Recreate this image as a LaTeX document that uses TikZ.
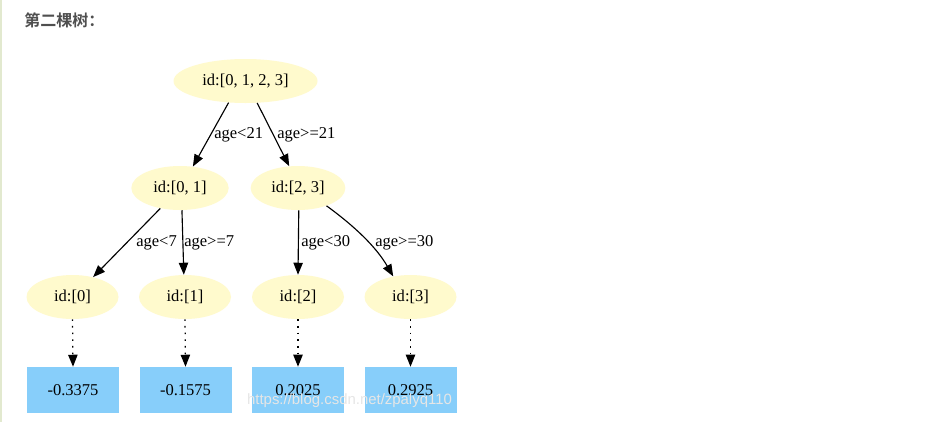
\documentclass[tikz,border=0pt]{standalone}
\usepackage{fontspec}
\setmainfont{Liberation Serif}
\newfontfamily\cjkbold[BoldFont={Noto Sans CJK SC Bold}]{Noto Sans CJK SC}
\newfontfamily\wmfont{Liberation Sans}
\usetikzlibrary{shapes.geometric,arrows.meta}
\definecolor{nodeyellow}{HTML}{FFFACD}
\definecolor{leafblue}{HTML}{87CEFA}
\definecolor{titlegray}{HTML}{4F4F4F}
\definecolor{borderline}{HTML}{E2E9CF}
\definecolor{wmgray}{HTML}{E6E6E6}
\tikzset{
  treenode/.style={ellipse, fill=nodeyellow, draw=none, inner sep=0pt,
    minimum height=33pt, font=\fontsize{12.4}{14}\selectfont},
  leafbox/.style={rectangle, fill=leafblue, draw=none, inner sep=0pt,
    minimum width=69pt, minimum height=34.5pt, font=\fontsize{12.4}{14}\selectfont},
  edgelabel/.style={inner sep=0pt, anchor=west, font=\fontsize{12.4}{14}\selectfont},
  conn/.style={line width=0.85pt, -{Triangle[length=9pt,width=7pt]}},
  dotconn/.style={line width=0.95pt, dash pattern=on 1.2pt off 3.8pt,
    -{Triangle[length=9pt,width=7pt]}},
}
\begin{document}
\begin{tikzpicture}[x=0.75pt,y=-0.75pt]
\useasboundingbox (0,0) rectangle (948,422);
\fill[white] (0,0) rectangle (948,422);
\draw[borderline, line width=1.1pt] (1,0) -- (1,422);

\node[anchor=west, inner sep=0pt, text=titlegray, font=\cjkbold\bfseries\fontsize{12}{14}\selectfont] (title) at (24,20) {第二棵树：};

\node[treenode, minimum width=108pt] (root) at (245.5,81) {id:[0, 1, 2, 3]};
\node[treenode, minimum width=73pt] (n01) at (180,188) {id:[0, 1]};
\node[treenode, minimum width=71pt] (n23) at (298,188) {id:[2, 3]};
\node[treenode, minimum width=69pt] (n0) at (72.5,297) {id:[0]};
\node[treenode, minimum width=69pt] (n1) at (185,297) {id:[1]};
\node[treenode, minimum width=69pt] (n2) at (298,297) {id:[2]};
\node[treenode, minimum width=69pt] (n3) at (410.5,297) {id:[3]};

\node[leafbox] (b0) at (73,390) {-0.3375};
\node[leafbox] (b1) at (185.5,390) {-0.1575};
\node[leafbox] (b2) at (298,390) {0.2025};
\node[leafbox] (b3) at (410.5,390) {0.2925};

\draw[conn] (root.232) -- (n01.59);
\draw[conn] (root.298) -- (n23.112);
\draw[conn] (n01.226) -- (n0.44);
\draw[conn] (n01.275) -- (n1.93);
\draw[conn] (n23.272) -- (n2.90);
\draw[conn] (n23.328) to[out=-36, in=120, looseness=0.9] (n3.130);

\node[edgelabel] (l1) at (214,135) {age<21};
\node[edgelabel] (l2) at (277,135) {age>=21};
\node[edgelabel] (l3) at (136,243) {age<7};
\node[edgelabel] (l4) at (184,243) {age>=7};
\node[edgelabel] (l5) at (301,243) {age<30};
\node[edgelabel] (l6) at (375,243) {age>=30};

\draw[dotconn] (n0.south) -- (b0.north);
\draw[dotconn] (n1.south) -- (b1.north);
\draw[dotconn] (n2.south) -- (b2.north);
\draw[dotconn] (n3.south) -- (b3.north);

\node[inner sep=0pt, text=wmgray, font=\wmfont\fontsize{11.2}{13}\selectfont] (wm) at (349.5,401) {https://blog.csdn.net/zpalyq110};
\end{tikzpicture}
\end{document}
